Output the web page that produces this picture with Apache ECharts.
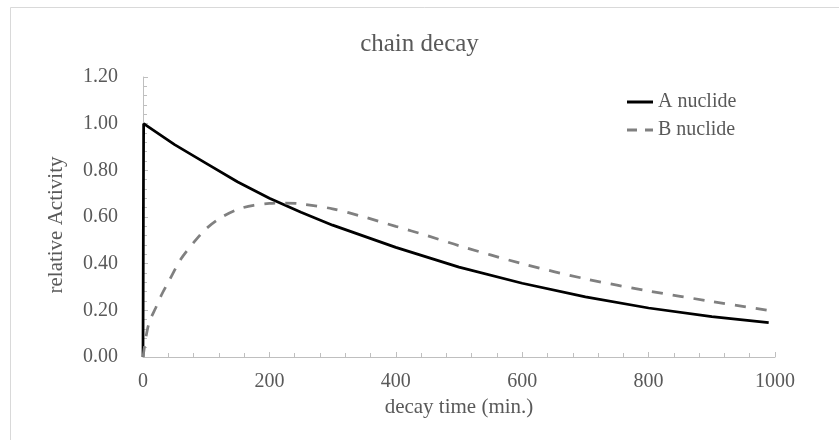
<!DOCTYPE html>
<html>
<head>
<meta charset="utf-8">
<script src="https://cdn.jsdelivr.net/npm/echarts@6/dist/echarts.min.js"></script>
<style>
  html, body { margin: 0; padding: 0; background: #fff; }
  #main { width: 839px; height: 440px; }
</style>
</head>
<body>
<div id="main"></div>
<script>
// values (time in min., relative activity)
var timeA = [0, 1, 50, 100, 150, 200, 250, 300, 400, 500, 600, 700, 800, 900, 990];
var valueA = [0, 1.0, 0.91, 0.83, 0.75, 0.68, 0.62, 0.565, 0.47, 0.385, 0.316, 0.258, 0.21, 0.173, 0.147];

var timeB = [0, 5, 10, 20, 30, 40, 60, 80, 100, 125, 150, 175, 200, 225, 250, 300, 350, 400, 450, 500, 600, 700, 800, 900, 990];
var valueB = [0, 0.09, 0.15, 0.21, 0.27, 0.32, 0.42, 0.49, 0.55, 0.6, 0.633, 0.65, 0.658, 0.66, 0.656, 0.635, 0.6, 0.56, 0.52, 0.477, 0.4, 0.335, 0.283, 0.238, 0.2];

var seriesNames = ['A nuclide', 'B nuclide'];

function pairs(xs, ys) {
  var out = [];
  for (var i = 0; i < xs.length; i++) out.push([xs[i], ys[i]]);
  return out;
}

var font = '"Liberation Serif", "Times New Roman", serif';
var textColor = '#595959';
var axisColor = '#bfbfbf';

var chart = echarts.init(document.getElementById('main'), null, { renderer: 'canvas' });

var option = {
  backgroundColor: '#ffffff',
  animation: false,
  title: {
    text: 'chain decay',
    left: 'center',
    top: 27,
    textStyle: { fontFamily: font, fontSize: 25, fontWeight: 'normal', color: textColor }
  },
  legend: {
    left: 622,
    top: 87,
    orient: 'vertical',
    itemWidth: 26,
    itemHeight: 12,
    itemGap: 8,
    textStyle: { fontFamily: font, fontSize: 20, color: textColor },
    data: [
      { name: seriesNames[0], icon: 'path://M0,0 L26,0 L26,3 L0,3 Z', itemStyle: { color: '#000' } },
      { name: seriesNames[1], icon: 'path://M0,0 L10,0 L10,3 L0,3 Z M18,0 L26,0 L26,3 L18,3 Z', itemStyle: { color: '#808080' } }
    ]
  },
  grid: { left: 143, right: 64, top: 77, bottom: 83, containLabel: false },
  xAxis: {
    type: 'value',
    min: 0,
    max: 1000,
    interval: 200,
    name: 'decay time (min.)',
    nameLocation: 'middle',
    nameGap: 40,
    nameTextStyle: { fontFamily: font, fontSize: 21, color: textColor },
    axisLine: { show: true, lineStyle: { color: axisColor, width: 1 } },
    axisTick: { show: true, inside: true, length: 5, lineStyle: { color: axisColor } },
    minorTick: { show: true, splitNumber: 5, length: 4, lineStyle: { color: axisColor } },
    axisLabel: {
      fontFamily: font, fontSize: 20, color: textColor, margin: 15,
      formatter: function (v) { return String(v); }
    },
    splitLine: { show: false }
  },
  yAxis: {
    type: 'value',
    min: 0,
    max: 1.2,
    interval: 0.2,
    name: 'relative Activity',
    nameLocation: 'middle',
    nameGap: 76,
    nameTextStyle: { fontFamily: font, fontSize: 21, color: textColor, padding: [0, 16, 0, 0] },
    axisLine: { show: true, lineStyle: { color: axisColor, width: 1 } },
    axisTick: { show: true, inside: true, length: 5, lineStyle: { color: axisColor } },
    minorTick: { show: true, splitNumber: 5, length: 4, lineStyle: { color: axisColor } },
    axisLabel: {
      fontFamily: font, fontSize: 20, color: textColor, margin: 25,
      formatter: function (v) { return v.toFixed(2); }
    },
    splitLine: { show: false }
  },
  graphic: [
    { type: 'line', shape: { x1: 10.5, y1: 7.5, x2: 839, y2: 7.5 }, style: { stroke: '#d9d9d9', lineWidth: 1 } },
    { type: 'line', shape: { x1: 10.5, y1: 7.5, x2: 10.5, y2: 440 }, style: { stroke: '#d9d9d9', lineWidth: 1 } }
  ],
  series: [
    {
      name: seriesNames[0],
      type: 'line',
      data: pairs(timeA, valueA),
      showSymbol: false,
      symbol: 'none',
      smooth: false,
      lineStyle: { color: '#000', width: 2.75 },
      itemStyle: { color: '#000' }
    },
    {
      name: seriesNames[1],
      type: 'line',
      data: pairs(timeB, valueB),
      showSymbol: false,
      symbol: 'none',
      smooth: 0.3,
      lineStyle: { color: '#808080', width: 2.75, type: [11, 10] },
      itemStyle: { color: '#808080' }
    }
  ]
};

chart.setOption(option);
</script>
</body>
</html>
